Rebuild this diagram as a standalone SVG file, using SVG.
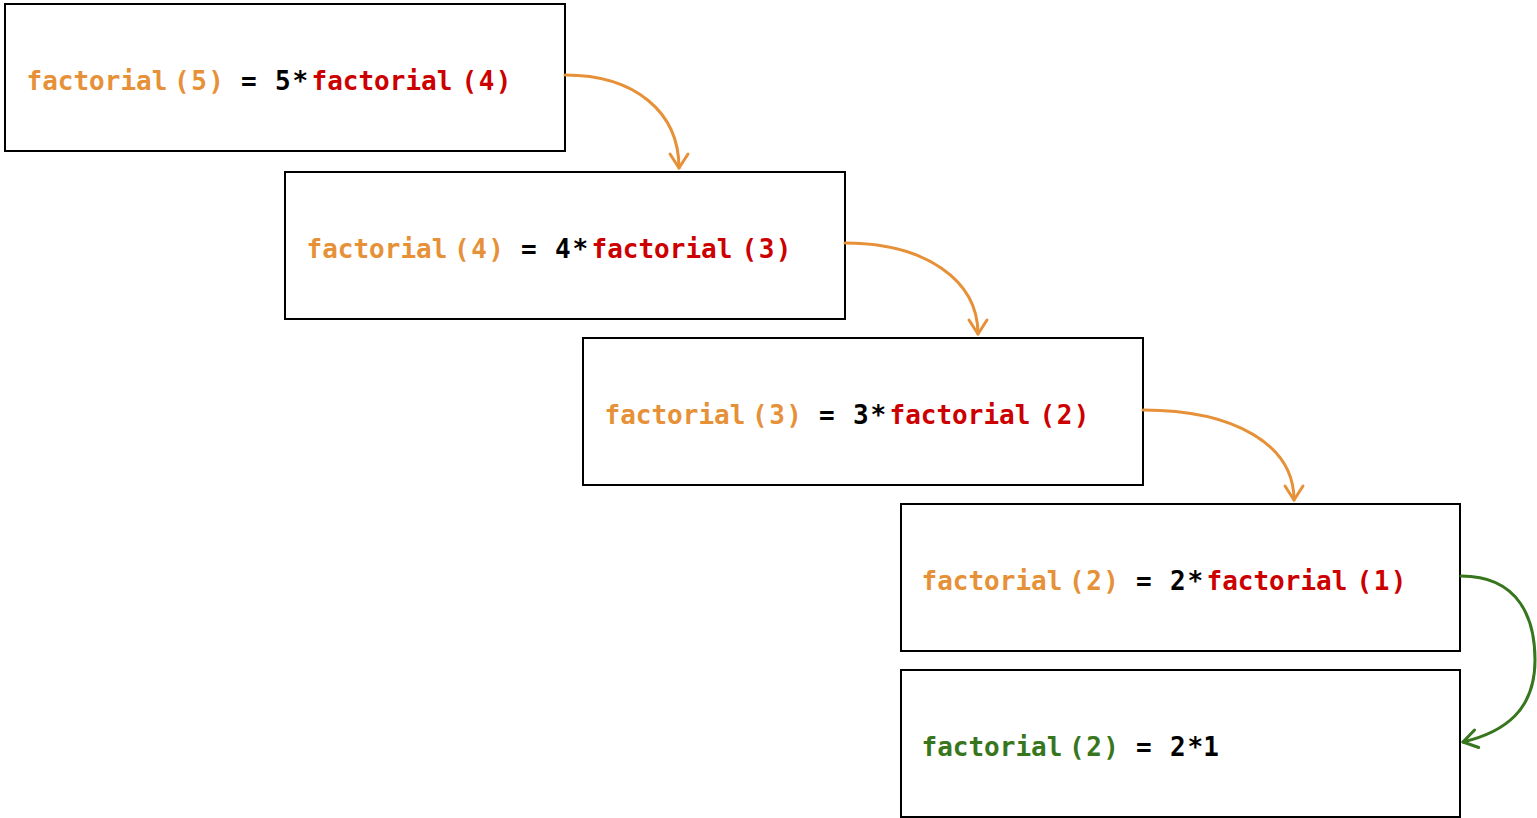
<svg xmlns="http://www.w3.org/2000/svg" width="1537" height="818" viewBox="0 0 1537 818">
  <defs>
    <style>
      .box { fill: #ffffff; stroke: #000000; stroke-width: 2; }
      .code { font-family: "DejaVu Sans Mono", "Liberation Mono", monospace; font-size: 26px; font-weight: bold; white-space: pre; }
      .arg { letter-spacing: 1.5px; }
      .call { fill: #e69138; }
      .pending { fill: #cc0000; }
      .plain { fill: #000000; }
      .done { fill: #38761d; }
      .link { fill: none; stroke-width: 3; stroke-linecap: round; }
      .link-orange { stroke: #e69138; }
      .link-green { stroke: #38761d; }
    </style>
    <marker id="head-orange" markerUnits="userSpaceOnUse" viewBox="-17 -12 20 24" markerWidth="20" markerHeight="24" refX="0" refY="0" orient="auto">
      <path d="M-14,-9 L0,0 L-14,9" fill="none" stroke="#e69138" stroke-width="3" stroke-linecap="round" stroke-linejoin="round"/>
    </marker>
    <marker id="head-green" markerUnits="userSpaceOnUse" viewBox="-17 -12 20 24" markerWidth="20" markerHeight="24" refX="0" refY="0" orient="auto">
      <path d="M-14,-9 L0,0 L-14,9" fill="none" stroke="#38761d" stroke-width="3" stroke-linecap="round" stroke-linejoin="round"/>
    </marker>
  </defs>

  <rect width="1537" height="818" fill="#ffffff"/>

  <!-- each line: call, argument, " = ", factor, "*", pending call, argument -->
  <g id="node-f5">
    <rect class="box" x="5" y="4" width="560" height="147"/>
    <text class="code" y="90"><tspan class="call" x="26.5">factorial</tspan><tspan class="call arg" x="174">(5)</tspan><tspan class="plain" x="241">=</tspan><tspan class="plain" x="275">5</tspan><tspan class="plain" x="292.5">*</tspan><tspan class="pending" x="311.5">factorial</tspan><tspan class="pending arg" x="461.5">(4)</tspan></text>
  </g>

  <g id="node-f4">
    <rect class="box" x="285" y="172" width="560" height="147"/>
    <text class="code" y="258"><tspan class="call" x="306.5">factorial</tspan><tspan class="call arg" x="454">(4)</tspan><tspan class="plain" x="521">=</tspan><tspan class="plain" x="555">4</tspan><tspan class="plain" x="572.5">*</tspan><tspan class="pending" x="591.5">factorial</tspan><tspan class="pending arg" x="741.5">(3)</tspan></text>
  </g>

  <g id="node-f3">
    <rect class="box" x="583" y="338" width="560" height="147"/>
    <text class="code" y="424"><tspan class="call" x="604.5">factorial</tspan><tspan class="call arg" x="752">(3)</tspan><tspan class="plain" x="819">=</tspan><tspan class="plain" x="853">3</tspan><tspan class="plain" x="870.5">*</tspan><tspan class="pending" x="889.5">factorial</tspan><tspan class="pending arg" x="1039.5">(2)</tspan></text>
  </g>

  <g id="node-f2">
    <rect class="box" x="901" y="504" width="559" height="147"/>
    <text class="code" y="590"><tspan class="call" x="921.5">factorial</tspan><tspan class="call arg" x="1069">(2)</tspan><tspan class="plain" x="1136">=</tspan><tspan class="plain" x="1170">2</tspan><tspan class="plain" x="1187.5">*</tspan><tspan class="pending" x="1206.5">factorial</tspan><tspan class="pending arg" x="1356.5">(1)</tspan></text>
  </g>

  <g id="node-f2-result">
    <rect class="box" x="901" y="670" width="559" height="147"/>
    <text class="code" y="756"><tspan class="done" x="921.5">factorial</tspan><tspan class="done arg" x="1069">(2)</tspan><tspan class="plain" x="1136">=</tspan><tspan class="plain" x="1170">2</tspan><tspan class="plain" x="1187.5">*1</tspan></text>
  </g>

  <g id="connectors">
    <path class="link link-orange" d="M565,75 C635,75 679,112 679,168" marker-end="url(#head-orange)"/>
    <path class="link link-orange" d="M845,243 C925,243 978,280 978,334" marker-end="url(#head-orange)"/>
    <path class="link link-orange" d="M1143,410 C1235,410 1294,445 1294,500" marker-end="url(#head-orange)"/>
    <path class="link link-green" d="M1461,576 C1520,576 1535,620 1535,660 C1535,710 1505,732 1463,742" marker-end="url(#head-green)"/>
  </g>
</svg>
